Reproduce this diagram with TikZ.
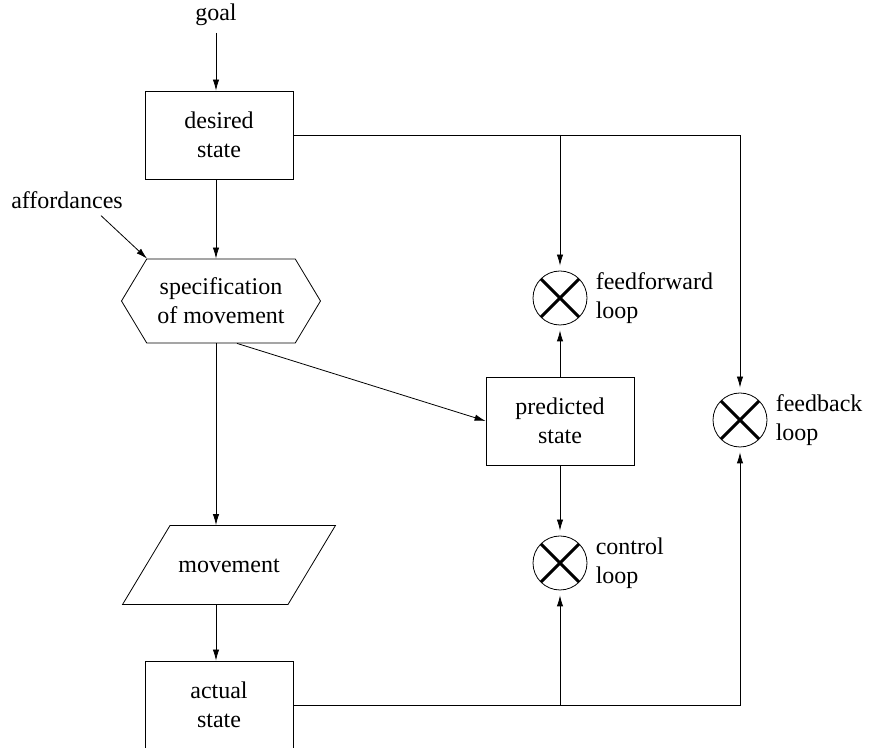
\documentclass[tikz,border=0pt]{standalone}
\usepackage{fontspec}
\setmainfont{Liberation Serif}
\usetikzlibrary{positioning,shapes.geometric,shapes.symbols,arrows.meta}

\begin{document}
\begin{tikzpicture}[x=0.5pt, y=-0.5pt, font=\fontsize{12}{14.5}\selectfont]
            \tikzset{
                box/.style = {draw, minimum width=74pt, minimum height=44pt,
                    align=center, inner sep=0pt},
                mixer/.style = {draw, circle, minimum size=27pt, inner sep=0pt,
                    path picture = {
                        \draw[line width=1.5pt]
                            (path picture bounding box.north west) -- (path picture bounding box.south east)
                            (path picture bounding box.north east) -- (path picture bounding box.south west);
                    }},
                arr/.style = {-{Latex[length=5.5pt, width=3.2pt]}},
                gap/.style = {arr, shorten >=2.5pt},
                tag/.style = {align=left, inner sep=0pt, right=4pt of #1}
            }

            \useasboundingbox (0, 0) rectangle (869, 748);

            \node (goal) at (216, 15) {goal};
            \node[box] (desired) at (219, 135) {desired\\state};
            \node (affordances) at (67, 200) {affordances};
            \node[draw, signal, signal to=west and east, signal pointer angle=118,
                minimum width=99.5pt, minimum height=42pt, align=center, inner sep=0pt]
                (spec) at (221, 301) {specification\\of movement};
            \node[draw, trapezium, trapezium left angle=59, trapezium right angle=121,
                text width=59pt, align=center, text height=8pt, text depth=0pt,
                inner xsep=0pt, inner ysep=15.75pt]
                (movement) at (229, 565) {movement};
            \node[box] (actual) at (219, 705) {actual\\state};
            \node[box] (predicted) at (560, 421) {predicted\\state};

            \node[mixer] (ff) at (560, 298) {};
            \node[mixer] (fb) at (740, 420) {};
            \node[mixer] (ctl) at (560, 563) {};
            \node[tag=ff] (fflabel) {feedforward\\loop};
            \node[tag=fb] (fblabel) {feedback\\loop};
            \node[tag=ctl] (ctllabel) {control\\loop};

            \draw[arr] (goal) -- (goal |- desired.north);
            \draw[arr] (desired.south -| goal) -- (spec.north -| goal);
            \draw[arr] ([xshift=17pt]affordances.south) -- ([xshift=-37pt]spec.north);
            \draw[arr] (spec.south -| goal) -- (movement.north -| goal);
            \draw[arr] (movement.south -| goal) -- (actual.north -| goal);
            \draw[arr] ([xshift=8pt]spec.south) -- (predicted.west);

            \draw[gap] (desired.east) -| (fb.north);
            \draw[gap] (desired.east -| ff) -- (ff.north);
            \draw[gap] (predicted.north) -- (ff.south);
            \draw[gap] (predicted.south) -- (ctl.north);
            \draw[gap] (actual.east) -| (fb.south);
            \draw[gap] (actual.east -| ctl) -- (ctl.south);
        \end{tikzpicture}
\end{document}
